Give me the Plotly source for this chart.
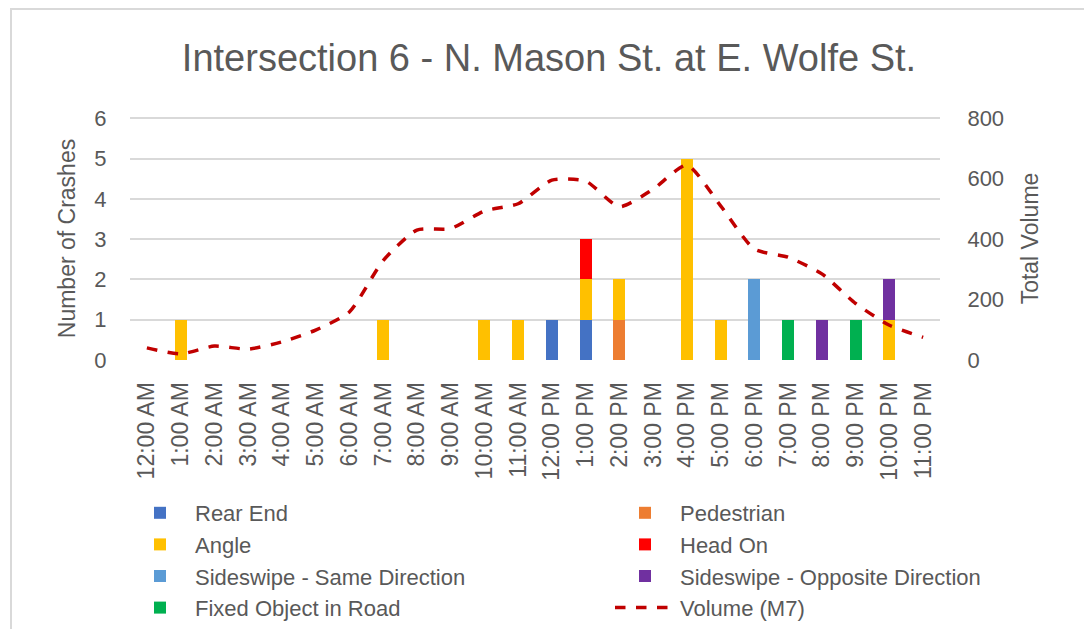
import plotly.graph_objects as go

hours = ["12:00 AM", "1:00 AM", "2:00 AM", "3:00 AM", "4:00 AM", "5:00 AM",
         "6:00 AM", "7:00 AM", "8:00 AM", "9:00 AM", "10:00 AM", "11:00 AM",
         "12:00 PM", "1:00 PM", "2:00 PM", "3:00 PM", "4:00 PM", "5:00 PM",
         "6:00 PM", "7:00 PM", "8:00 PM", "9:00 PM", "10:00 PM", "11:00 PM"]

rear_end      = [0,0,0,0,0,0,0,0,0,0,0,0,1,1,0,0,0,0,0,0,0,0,0,0]
pedestrian    = [0,0,0,0,0,0,0,0,0,0,0,0,0,0,1,0,0,0,0,0,0,0,0,0]
angle         = [0,1,0,0,0,0,0,1,0,0,1,1,0,1,1,0,5,1,0,0,0,0,1,0]
head_on       = [0,0,0,0,0,0,0,0,0,0,0,0,0,1,0,0,0,0,0,0,0,0,0,0]
sideswipe_same = [0,0,0,0,0,0,0,0,0,0,0,0,0,0,0,0,0,0,2,0,0,0,0,0]
sideswipe_opp  = [0,0,0,0,0,0,0,0,0,0,0,0,0,0,0,0,0,0,0,0,1,0,1,0]
fixed_object   = [0,0,0,0,0,0,0,0,0,0,0,0,0,0,0,0,0,0,0,1,0,1,0,0]

volume = [40, 20, 46, 36, 60, 99, 159, 329, 430, 435, 493, 517,
          595, 592, 507, 565, 645, 510, 367, 340, 285, 187, 115, 75]

# (name, values, colour, legend column)
series = [
    ("Rear End", rear_end, "#4472C4", "legend"),
    ("Pedestrian", pedestrian, "#ED7D31", "legend2"),
    ("Angle", angle, "#FFC000", "legend"),
    ("Head On", head_on, "#FF0000", "legend2"),
    ("Sideswipe - Same Direction", sideswipe_same, "#5B9BD5", "legend"),
    ("Sideswipe - Opposite Direction", sideswipe_opp, "#7030A0", "legend2"),
    ("Fixed Object in Road", fixed_object, "#00B050", "legend"),
]

FONT = "Liberation Sans, Arial, sans-serif"
GRAY = "#595959"

# page is drawn with an 8px body offset; layout below is in figure pixels
L, R, T, B = 122, 160, 109, 277
PW = 1092 - L - R
PH = 629 - T - B

fig = go.Figure()
for name, vals, color, leg in series:
    fig.add_trace(go.Bar(
        x=hours, y=[v if v else None for v in vals], name=name, legend=leg,
        marker=dict(color=color, line=dict(width=0)),
    ))

fig.add_trace(go.Scatter(
    x=hours, y=volume, name="Volume (M7)", yaxis="y2", mode="lines", legend="legend2",
    line=dict(color="#C00000", width=3.5, dash="dash", shape="spline", smoothing=0.6),
))

leg_y = -(484 - (T + PH)) / PH
legend_common = dict(orientation="v", y=leg_y, yanchor="top", xanchor="left",
                     traceorder="normal", font=dict(size=22, color=GRAY),
                     itemwidth=60, bgcolor="rgba(0,0,0,0)", tracegroupgap=0)

fig.update_layout(
    width=1092, height=629,
    barmode="stack", bargap=0.64,
    paper_bgcolor="white", plot_bgcolor="white",
    margin=dict(l=L, r=R, t=T, b=B, autoexpand=False),
    font=dict(family=FONT, color=GRAY, size=21),
    title=dict(text="Intersection 6 - N. Mason St. at E. Wolfe St.",
               x=541 / 1092, xanchor="center", y=1 - 50 / 629, yanchor="middle",
               yref="container", font=dict(size=38, color=GRAY, family=FONT)),
    xaxis=dict(type="category", tickangle=-90, tickfont=dict(size=23),
               ticks="outside", ticklen=12, tickcolor="rgba(0,0,0,0)",
               showgrid=False, showline=False, zeroline=False,
               categoryorder="array", categoryarray=hours),
    yaxis=dict(range=[0, 6.03], tickvals=[0, 1, 2, 3, 4, 5, 6], showgrid=True,
               gridcolor="#D9D9D9", gridwidth=1.5,
               zeroline=False, showline=False,
               ticks="outside", ticklen=18, tickcolor="rgba(0,0,0,0)",
               tickfont=dict(size=22),
               title=dict(text="Number of Crashes", font=dict(size=23), standoff=12)),
    yaxis2=dict(range=[0, 804], tickvals=[0, 200, 400, 600, 800], overlaying="y", side="right",
                showgrid=False, zeroline=False, showline=False,
                ticks="outside", ticklen=22, tickcolor="rgba(0,0,0,0)",
                tickfont=dict(size=22),
                title=dict(text="Total Volume", font=dict(size=23), standoff=18)),
    legend=dict(x=(117 - L) / PW, **legend_common),
    legend2=dict(x=(602 - L) / PW, **legend_common),
    shapes=[dict(type="rect", xref="paper", yref="paper",
                 x0=(3 - L) / PW, x1=(1081 - L) / PW,
                 y0=-(640 - T - PH) / PH, y1=(T + PH - 1) / PH,
                 line=dict(color="#D9D9D9", width=2), layer="below")],
)

fig.write_html("out.html")
